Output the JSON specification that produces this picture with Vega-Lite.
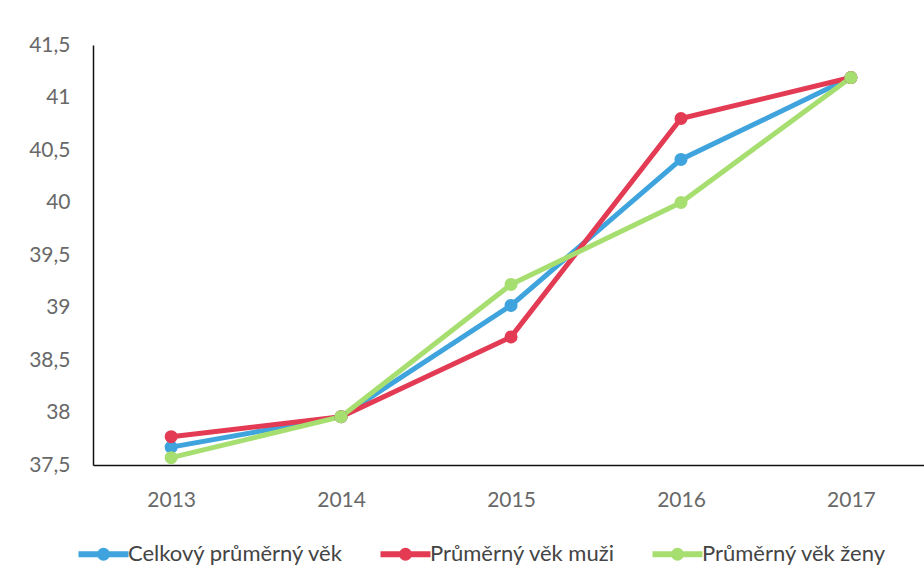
{
  "$schema": "https://vega.github.io/schema/vega-lite/v6.json",
  "autosize": {"type": "none"},
  "width": 831,
  "height": 420,
  "padding": {"left": 93, "top": 45, "right": 0, "bottom": 109},
  "background": "white",
  "config": {
    "view": {"stroke": null},
    "font": "Lato"
  },
  "data": {
    "values": [
      {"rok": 2013, "serie": "Celkový průměrný věk", "vek": 37.67},
      {"rok": 2014, "serie": "Celkový průměrný věk", "vek": 37.96},
      {"rok": 2015, "serie": "Celkový průměrný věk", "vek": 39.02},
      {"rok": 2016, "serie": "Celkový průměrný věk", "vek": 40.41},
      {"rok": 2017, "serie": "Celkový průměrný věk", "vek": 41.19},
      {"rok": 2013, "serie": "Průměrný věk muži", "vek": 37.77},
      {"rok": 2014, "serie": "Průměrný věk muži", "vek": 37.96},
      {"rok": 2015, "serie": "Průměrný věk muži", "vek": 38.72},
      {"rok": 2016, "serie": "Průměrný věk muži", "vek": 40.8},
      {"rok": 2017, "serie": "Průměrný věk muži", "vek": 41.19},
      {"rok": 2013, "serie": "Průměrný věk ženy", "vek": 37.57},
      {"rok": 2014, "serie": "Průměrný věk ženy", "vek": 37.96},
      {"rok": 2015, "serie": "Průměrný věk ženy", "vek": 39.22},
      {"rok": 2016, "serie": "Průměrný věk ženy", "vek": 40.0},
      {"rok": 2017, "serie": "Průměrný věk ženy", "vek": 41.19}
    ]
  },
  "mark": {"type": "line", "strokeWidth": 5, "point": {"filled": true, "size": 170, "opacity": 1}},
  "encoding": {
    "x": {
      "field": "rok",
      "type": "quantitative",
      "scale": {"domain": [2012.54, 2017.43], "nice": false, "zero": false},
      "axis": {
        "title": null,
        "values": [2013, 2014, 2015, 2016, 2017],
        "format": "d",
        "grid": false,
        "ticks": false,
        "domainColor": "#111111",
        "domainWidth": 1.5,
        "labelColor": "#686868",
        "labelFontSize": 21,
        "labelPadding": 24,
        "labelFont": "Lato"
      }
    },
    "y": {
      "field": "vek",
      "type": "quantitative",
      "scale": {"domain": [37.5, 41.5], "nice": false, "zero": false},
      "axis": {
        "title": null,
        "values": [37.5, 38, 38.5, 39, 39.5, 40, 40.5, 41, 41.5],
        "labelExpr": "replace(format(datum.value, '.1~f'), '.', ',')",
        "grid": false,
        "ticks": false,
        "domainColor": "#111111",
        "domainWidth": 1.5,
        "labelColor": "#686868",
        "labelFontSize": 21,
        "labelPadding": 23,
        "labelFont": "Lato"
      }
    },
    "color": {
      "field": "serie",
      "type": "nominal",
      "scale": {
        "domain": ["Celkový průměrný věk", "Průměrný věk muži", "Průměrný věk ženy"],
        "range": ["#3fa4dd", "#e23b53", "#a7de70"]
      },
      "legend": {
        "title": null,
        "orient": "none",
        "direction": "horizontal",
        "legendX": -15,
        "legendY": 496,
        "symbolType": "M-1.25,0H3.75M0.9,0A0.35,0.35 0 1,0 1.6,0A0.35,0.35 0 1,0 0.9,0",
        "symbolSize": 400,
        "symbolStrokeWidth": 6,
        "symbolOpacity": 1,
        "labelFontSize": 22,
        "labelColor": "#444444",
        "labelFont": "Lato",
        "labelLimit": 0,
        "labelOffset": 24,
        "columnPadding": 24
      }
    }
  }
}
